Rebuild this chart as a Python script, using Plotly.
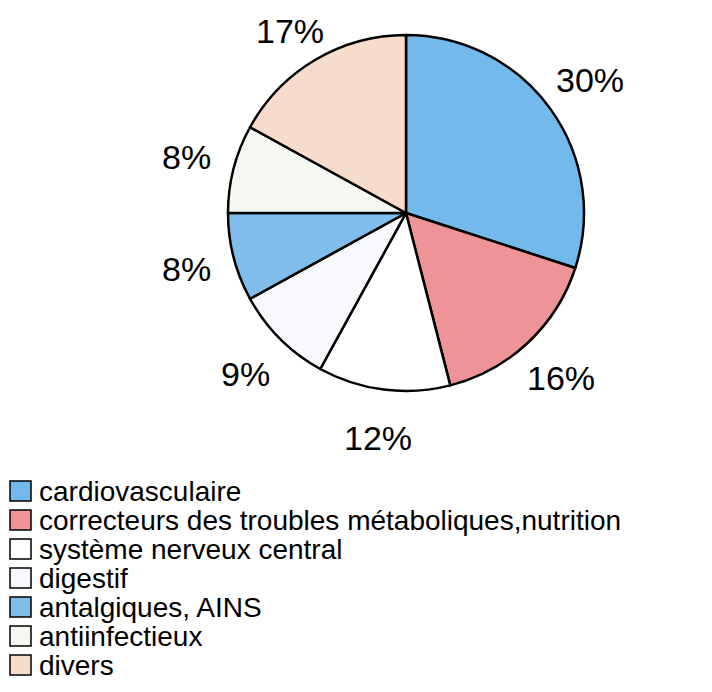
import math
import plotly.graph_objects as go

# ---- data ----
categories = [
    "cardiovasculaire",
    "correcteurs des troubles métaboliques,nutrition",
    "système nerveux central",
    "digestif",
    "antalgiques, AINS",
    "antiinfectieux",
    "divers",
]
values = [30, 16, 12, 9, 8, 8, 17]
label_texts = [f"{v}%" for v in values]

# ---- styling ----
colors = ["#74b9ec", "#ee9396", "#ffffff", "#f8f9fc", "#80bdea", "#f5f8f1", "#f8dccb"]
OFF = 8                     # page body margin
W, H = 712 - OFF, 692 - OFF
FONT = "Liberation Sans, Arial, sans-serif"
cx, cy, R = 406, 213, 178   # pie centre / radius in window pixels
LABEL_SIZE = 34


def px_x(x):
    return (x - OFF) / W


def px_y(y):
    return 1 - (y - OFF) / H


fig = go.Figure(
    go.Pie(
        labels=categories,
        values=values,
        sort=False,
        direction="clockwise",
        rotation=0,
        marker=dict(colors=colors, line=dict(color="black", width=2.5)),
        textinfo="none",
        hoverinfo="label+percent",
        showlegend=False,
        domain=dict(x=[px_x(cx - R), px_x(cx + R)], y=[px_y(cy + R), px_y(cy - R)]),
    )
)

annotations = []
shapes = []

# percentage labels placed radially outside each slice
total = sum(values)
cum = 0
for v, t in zip(values, label_texts):
    mid = (cum + v / 2) / total * 2 * math.pi
    cum += v
    d = 227
    px = cx + d * math.sin(mid)
    py = cy - d * math.cos(mid)
    py = max(py, OFF + LABEL_SIZE * 0.68)   # keep the top label inside the page
    annotations.append(dict(
        x=px_x(px), y=px_y(py), xref="paper", yref="paper",
        text=t, showarrow=False, xanchor="center", yanchor="middle",
        font=dict(family=FONT, size=LABEL_SIZE, color="black"),
    ))

# manual legend
row0, step = 491, 29
for i, (name, col) in enumerate(zip(categories, colors)):
    yc = row0 + i * step
    shapes.append(dict(
        type="rect", xref="paper", yref="paper",
        x0=px_x(10), x1=px_x(31), y0=px_y(yc + 10), y1=px_y(yc - 10),
        fillcolor=col, line=dict(color="black", width=1.5),
    ))
    annotations.append(dict(
        x=px_x(37), y=px_y(yc), xref="paper", yref="paper",
        text=name, showarrow=False, xanchor="left", yanchor="middle",
        font=dict(family=FONT, size=28, color="black"),
    ))

fig.update_layout(
    width=W, height=H, autosize=False,
    margin=dict(l=0, r=0, t=0, b=0),
    paper_bgcolor="white", plot_bgcolor="white",
    annotations=annotations, shapes=shapes,
)

fig.write_html("out.html")
